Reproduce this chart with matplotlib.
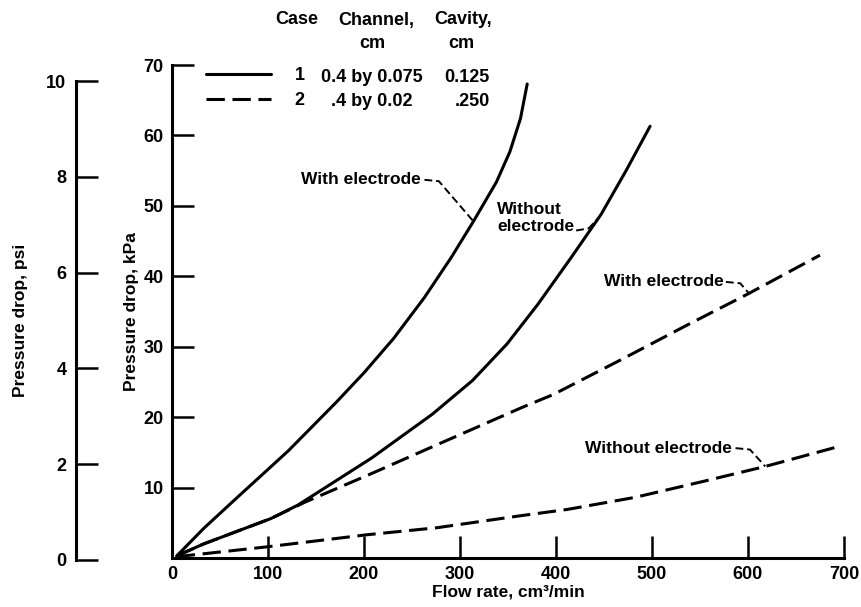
import matplotlib
matplotlib.use("Agg")
import matplotlib.pyplot as plt
import numpy as np

# flow rate (cm^3/min) and pressure drop (kPa)
case1_with_x = [5, 33, 68, 121, 171, 200, 231, 263, 291, 314, 338, 352, 363, 370]
case1_with_y = [0.3, 4.2, 8.6, 15.2, 22.1, 26.3, 31.2, 37.0, 42.7, 47.8, 53.4, 57.7, 62.4, 67.3]

case1_without_x = [5, 33, 103, 131, 208, 271, 313, 349, 381, 416, 447, 473, 498]
case1_without_y = [0.3, 2.0, 5.6, 7.5, 14.2, 20.4, 25.2, 30.4, 36.0, 42.7, 48.8, 55.0, 61.3]

case2_with_x = [5, 33, 103, 138, 208, 278, 365, 397, 467, 537, 600, 675]
case2_with_y = [0.3, 2.0, 5.6, 7.9, 12.0, 16.2, 21.4, 23.2, 28.1, 33.1, 37.5, 43.0]

case2_without_x = [5, 33, 100, 203, 276, 363, 412, 482, 551, 618, 691]
case2_without_y = [0.2, 0.6, 1.6, 3.3, 4.3, 6.0, 6.9, 8.6, 10.8, 13.0, 15.7]

x_ticks = [0, 100, 200, 300, 400, 500, 600, 700]
kpa_ticks = [10, 20, 30, 40, 50, 60, 70]
psi_ticks = [0, 2, 4, 6, 8, 10]

case_ids = ["1", "2"]
channel_sizes = ["0.4 by 0.075", ".4 by 0.02"]
cavity_sizes = ["0.125", ".250"]

plt.rcParams["font.family"] = ["Liberation Sans", "DejaVu Sans"]
plt.rcParams["font.weight"] = "bold"
plt.rcParams["axes.labelweight"] = "bold"

W, H = 862, 607
fig = plt.figure(figsize=(W / 100, H / 100), dpi=100)


def px(x, y):
    return x / W, 1 - y / H


LW = 2.2
DASH = (6, 2.5)
FS = 12.5      # curve labels, axis titles
FS_NUM = 13    # tick labels and legend table

ax = fig.add_axes([172 / W, (H - 558) / H, 672 / W, 493 / H])
ax.set_xlim(0, 700)
ax.set_ylim(0, 70)
for s in ["top", "right"]:
    ax.spines[s].set_visible(False)
for s in ["left", "bottom"]:
    ax.spines[s].set_linewidth(LW)

l1, = ax.plot(case1_with_x, case1_with_y, color="black", lw=LW, solid_capstyle="round")
ax.plot(case1_without_x, case1_without_y, color="black", lw=LW, solid_capstyle="round")
l2, = ax.plot(case2_with_x, case2_with_y, color="black", lw=LW, dashes=DASH)
ax.plot(case2_without_x, case2_without_y, color="black", lw=LW, dashes=DASH)

ax.set_xticks(x_ticks)
ax.set_xticklabels([str(v) for v in x_ticks], fontsize=FS_NUM)
ax.set_yticks(kpa_ticks)
ax.set_yticklabels([str(v) for v in kpa_ticks], fontsize=FS_NUM)
ax.tick_params(axis="both", direction="in", length=16, width=1.8, pad=6)
ax.xaxis.get_major_ticks()[0].tick1line.set_visible(False)
ax.set_xlabel("Flow rate, cm³/min", fontsize=FS, labelpad=1)
ax.set_ylabel("Pressure drop, kPa", fontsize=FS, labelpad=3)

# second scale in psi, drawn as its own spine further left
axp = fig.add_axes([76 / W, (H - 560) / H, 0.02, 479 / H])
axp.set_ylim(0, 10)
axp.patch.set_visible(False)
for s in ["top", "right", "bottom"]:
    axp.spines[s].set_visible(False)
axp.spines["left"].set_linewidth(LW)
axp.set_xticks([])
axp.set_yticks(psi_ticks)
axp.set_yticklabels([str(v) for v in psi_ticks], fontsize=FS_NUM)
axp.tick_params(axis="y", direction="in", length=16, width=1.8, pad=7)
axp.set_ylabel("Pressure drop, psi", fontsize=FS, labelpad=13)

# curve labels with dashed leaders
lead = dict(color="black", lw=1.4, dashes=(4, 2))


def label_leader(text, tx, ty, hx, curve_x, curve_y, at_x):
    ax.text(tx, ty, text, fontsize=FS, ha="left", va="center", linespacing=1.1)
    end_y = float(np.interp(at_x, curve_x, curve_y))
    ax.plot([hx, hx + 15, at_x], [ty, ty - 0.2, end_y], **lead)


label_leader("With electrode", 134, 53.7, 263, case1_with_x, case1_with_y, 314)
ax.text(339, 48.3, "Without\nelectrode", fontsize=FS, ha="left", va="center", linespacing=1.15)
ax.plot([421, 434, 444.5],
        [46.5, 46.8, float(np.interp(444.5, case1_without_x, case1_without_y))], **lead)
label_leader("With electrode", 450, 39.2, 577, case2_with_x, case2_with_y, 601)
label_leader("Without electrode", 430, 15.6, 587, case2_without_x, case2_without_y, 618)

# legend table
fig.legend([l1, l2], case_ids, loc="upper left", bbox_to_anchor=px(206, 67),
           frameon=False, fontsize=FS_NUM, handlelength=3.6, handletextpad=1.3,
           labelspacing=0.45, borderpad=0, borderaxespad=0)
fig.text(*px(297, 20), "Case", fontsize=FS_NUM, ha="center", va="center")
fig.text(*px(376, 20), "Channel,", fontsize=FS_NUM, ha="center", va="center")
fig.text(*px(372, 43), "cm", fontsize=FS_NUM, ha="center", va="center")
fig.text(*px(463, 20), "Cavity,", fontsize=FS_NUM, ha="center", va="center")
fig.text(*px(461, 43), "cm", fontsize=FS_NUM, ha="center", va="center")
for i, (ch, cv) in enumerate(zip(channel_sizes, cavity_sizes)):
    y = 77 + 25 * i
    fig.text(*px(372, y), ch, fontsize=FS_NUM, ha="center", va="center")
    fig.text(*px(490, y), cv, fontsize=FS_NUM, ha="right", va="center")

fig.savefig("out.png", dpi=100)
